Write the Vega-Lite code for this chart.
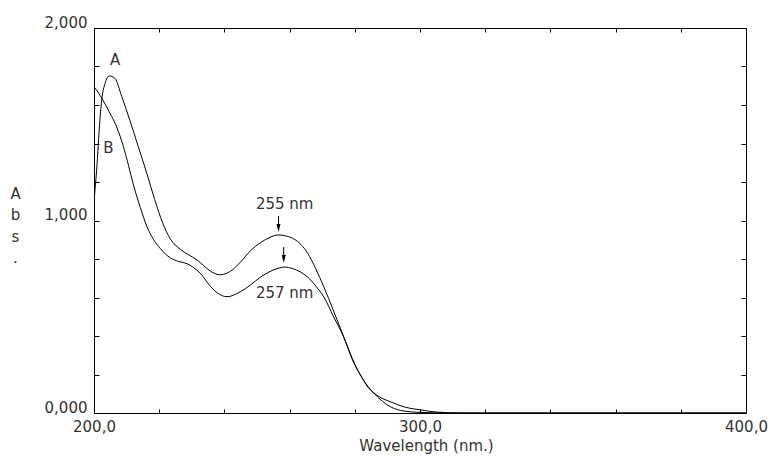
{
  "$schema": "https://vega.github.io/schema/vega-lite/v6.json",
  "width": 652,
  "height": 385,
  "autosize": "none",
  "padding": {"left": 94, "top": 28, "right": 28, "bottom": 48},
  "background": "white",
  "config": {
    "view": {"stroke": null},
    "font": "DejaVu Sans",
    "axis": {
      "grid": false,
      "domainColor": "#000",
      "domainWidth": 1,
      "tickColor": "#000",
      "tickWidth": 1,
      "labelFont": "DejaVu Sans",
      "labelFontSize": 15,
      "labelColor": "#333",
      "titleFont": "DejaVu Sans",
      "titleFontSize": 15,
      "titleFontWeight": "normal",
      "titleColor": "#333",
      "labelOverlap": false,
      "labelFlush": false
    }
  },
  "datasets": {
    "curves": [
      {"wl": 200.0, "abs": 1.1, "s": "A"},
      {"wl": 200.8, "abs": 1.26, "s": "A"},
      {"wl": 201.8, "abs": 1.52, "s": "A"},
      {"wl": 202.4, "abs": 1.63, "s": "A"},
      {"wl": 203.4, "abs": 1.713, "s": "A"},
      {"wl": 204.7, "abs": 1.751, "s": "A"},
      {"wl": 206.4, "abs": 1.739, "s": "A"},
      {"wl": 208.5, "abs": 1.645, "s": "A"},
      {"wl": 211.0, "abs": 1.52, "s": "A"},
      {"wl": 213.6, "abs": 1.383, "s": "A"},
      {"wl": 216.2, "abs": 1.245, "s": "A"},
      {"wl": 218.6, "abs": 1.11, "s": "A"},
      {"wl": 221.0, "abs": 0.99, "s": "A"},
      {"wl": 223.4, "abs": 0.905, "s": "A"},
      {"wl": 226.5, "abs": 0.85, "s": "A"},
      {"wl": 229.0, "abs": 0.822, "s": "A"},
      {"wl": 231.6, "abs": 0.795, "s": "A"},
      {"wl": 233.7, "abs": 0.765, "s": "A"},
      {"wl": 235.7, "abs": 0.737, "s": "A"},
      {"wl": 238.8, "abs": 0.718, "s": "A"},
      {"wl": 242.4, "abs": 0.743, "s": "A"},
      {"wl": 245.0, "abs": 0.785, "s": "A"},
      {"wl": 248.0, "abs": 0.843, "s": "A"},
      {"wl": 251.1, "abs": 0.885, "s": "A"},
      {"wl": 254.0, "abs": 0.913, "s": "A"},
      {"wl": 256.5, "abs": 0.925, "s": "A"},
      {"wl": 258.8, "abs": 0.92, "s": "A"},
      {"wl": 261.2, "abs": 0.905, "s": "A"},
      {"wl": 263.5, "abs": 0.875, "s": "A"},
      {"wl": 265.5, "abs": 0.831, "s": "A"},
      {"wl": 268.0, "abs": 0.75, "s": "A"},
      {"wl": 270.5, "abs": 0.655, "s": "A"},
      {"wl": 273.5, "abs": 0.53, "s": "A"},
      {"wl": 276.6, "abs": 0.395, "s": "A"},
      {"wl": 278.8, "abs": 0.3, "s": "A"},
      {"wl": 280.9, "abs": 0.223, "s": "A"},
      {"wl": 283.3, "abs": 0.155, "s": "A"},
      {"wl": 285.8, "abs": 0.104, "s": "A"},
      {"wl": 288.5, "abs": 0.06, "s": "A"},
      {"wl": 291.1, "abs": 0.031, "s": "A"},
      {"wl": 295.1, "abs": 0.01, "s": "A"},
      {"wl": 300.3, "abs": 0.003, "s": "A"},
      {"wl": 309.5, "abs": 0.0, "s": "A"},
      {"wl": 400.0, "abs": 0.0, "s": "A"},
      {"wl": 200.0, "abs": 1.695, "s": "B"},
      {"wl": 201.2, "abs": 1.667, "s": "B"},
      {"wl": 202.4, "abs": 1.635, "s": "B"},
      {"wl": 204.9, "abs": 1.557, "s": "B"},
      {"wl": 207.0, "abs": 1.484, "s": "B"},
      {"wl": 209.0, "abs": 1.385, "s": "B"},
      {"wl": 210.6, "abs": 1.285, "s": "B"},
      {"wl": 212.1, "abs": 1.185, "s": "B"},
      {"wl": 214.2, "abs": 1.068, "s": "B"},
      {"wl": 216.2, "abs": 0.97, "s": "B"},
      {"wl": 218.3, "abs": 0.9, "s": "B"},
      {"wl": 220.3, "abs": 0.855, "s": "B"},
      {"wl": 223.4, "abs": 0.806, "s": "B"},
      {"wl": 226.0, "abs": 0.787, "s": "B"},
      {"wl": 228.5, "abs": 0.776, "s": "B"},
      {"wl": 230.5, "abs": 0.756, "s": "B"},
      {"wl": 232.6, "abs": 0.726, "s": "B"},
      {"wl": 235.7, "abs": 0.658, "s": "B"},
      {"wl": 238.0, "abs": 0.622, "s": "B"},
      {"wl": 240.8, "abs": 0.604, "s": "B"},
      {"wl": 244.9, "abs": 0.63, "s": "B"},
      {"wl": 248.0, "abs": 0.665, "s": "B"},
      {"wl": 251.0, "abs": 0.705, "s": "B"},
      {"wl": 254.0, "abs": 0.735, "s": "B"},
      {"wl": 256.5, "abs": 0.752, "s": "B"},
      {"wl": 258.4, "abs": 0.758, "s": "B"},
      {"wl": 261.0, "abs": 0.75, "s": "B"},
      {"wl": 263.4, "abs": 0.732, "s": "B"},
      {"wl": 265.5, "abs": 0.707, "s": "B"},
      {"wl": 268.0, "abs": 0.66, "s": "B"},
      {"wl": 270.5, "abs": 0.603, "s": "B"},
      {"wl": 273.5, "abs": 0.5, "s": "B"},
      {"wl": 276.6, "abs": 0.395, "s": "B"},
      {"wl": 279.7, "abs": 0.26, "s": "B"},
      {"wl": 282.0, "abs": 0.19, "s": "B"},
      {"wl": 284.0, "abs": 0.135, "s": "B"},
      {"wl": 287.5, "abs": 0.085, "s": "B"},
      {"wl": 291.1, "abs": 0.057, "s": "B"},
      {"wl": 295.5, "abs": 0.03, "s": "B"},
      {"wl": 300.3, "abs": 0.016, "s": "B"},
      {"wl": 304.9, "abs": 0.005, "s": "B"},
      {"wl": 312.6, "abs": 0.0, "s": "B"},
      {"wl": 400.0, "abs": 0.0, "s": "B"}
    ],
    "labels": [
      {"wl": 206.5, "abs": 1.834, "text": "A"},
      {"wl": 204.4, "abs": 1.375, "text": "B"},
      {"wl": 258.5, "abs": 1.088, "text": "255 nm"},
      {"wl": 258.5, "abs": 0.621, "text": "257 nm"}
    ],
    "arrows": [
      {"wl": 256.6, "y1": 1.023, "y2": 0.961},
      {"wl": 258.2, "y1": 0.862, "y2": 0.8}
    ]
  },
  "layer": [
    {
      "data": {"name": "curves"},
      "mark": {"type": "line", "color": "#000", "strokeWidth": 1, "interpolate": "monotone", "clip": true},
      "encoding": {
        "x": {
          "field": "wl", "type": "quantitative",
          "scale": {"domain": [200, 400], "nice": false, "zero": false},
          "axis": {
            "orient": "bottom",
            "values": [200, 220, 240, 260, 280, 300, 320, 340, 360, 380, 400],
            "labelExpr": "datum.value % 100 == 0 ? replace(format(datum.value, '.1f'), '.', ',') : ''",
            "tickSize": -4,
            "labelPadding": 10,
            "title": "Wavelength (nm.)",
            "titlePadding": 4,
            "titleX": 332
          }
        },
        "y": {
          "field": "abs", "type": "quantitative",
          "scale": {"domain": [0, 2], "nice": false},
          "axis": {
            "orient": "left",
            "values": [0, 0.2, 0.4, 0.6, 0.8, 1.0, 1.2, 1.4, 1.6, 1.8, 2.0],
            "labelExpr": "abs(datum.value - round(datum.value)) < 0.001 ? replace(format(datum.value, '.3f'), '.', ',') : ''",
            "tickSize": -5,
            "labelPadding": 12,
            "labelBaseline": "alphabetic",
            "labelOffset": -1,
            "title": ["A", "b", "s", "."],
            "titleAngle": 0,
            "titleAlign": "center",
            "titleBaseline": "top",
            "titleLineHeight": 21.5,
            "titleX": -79,
            "titleY": 158
          }
        },
        "detail": {"field": "s"}
      }
    },
    {
      "data": {"name": "labels"},
      "mark": {"type": "text", "font": "DejaVu Sans", "fontSize": 15, "color": "#333", "baseline": "middle", "align": "center"},
      "encoding": {
        "x": {
          "field": "wl", "type": "quantitative",
          "axis": {
            "orient": "top",
            "values": [200, 220, 240, 260, 280, 300, 320, 340, 360, 380, 400],
            "labels": false,
            "tickSize": -4,
            "title": null
          }
        },
        "y": {
          "field": "abs", "type": "quantitative",
          "axis": {
            "orient": "right",
            "values": [0, 0.2, 0.4, 0.6, 0.8, 1.0, 1.2, 1.4, 1.6, 1.8, 2.0],
            "labels": false,
            "tickSize": -5,
            "title": null
          }
        },
        "text": {"field": "text"}
      }
    },
    {
      "data": {"name": "arrows"},
      "mark": {"type": "rule", "color": "#000", "strokeWidth": 1},
      "encoding": {
        "x": {"field": "wl", "type": "quantitative", "axis": null},
        "y": {"field": "y1", "type": "quantitative", "axis": null},
        "y2": {"field": "y2"}
      }
    },
    {
      "data": {"name": "arrows"},
      "mark": {"type": "point", "shape": "M-0.5,-1L0.5,-1L0,1Z", "size": 64, "filled": true, "color": "#000", "opacity": 1},
      "encoding": {
        "x": {"field": "wl", "type": "quantitative", "axis": null},
        "y": {"field": "y2", "type": "quantitative", "axis": null}
      }
    }
  ],
  "resolve": {"axis": {"x": "independent", "y": "independent"}}
}
